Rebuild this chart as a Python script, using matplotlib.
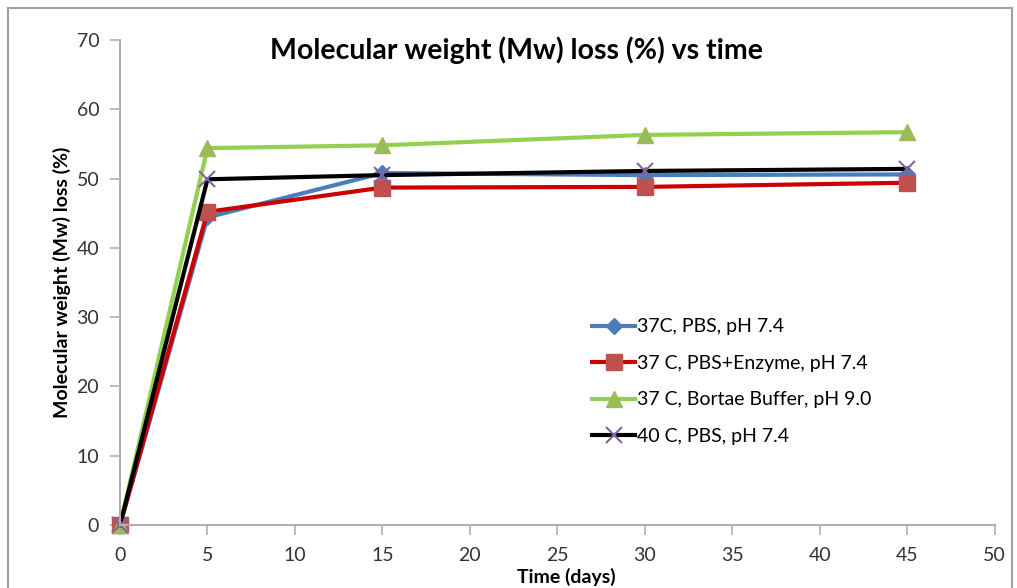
import matplotlib
matplotlib.use("Agg")
import matplotlib.pyplot as plt
from matplotlib.lines import Line2D

plt.rcParams['font.family'] = ['Liberation Sans Narrow', 'Lato', 'DejaVu Sans']

# data
days = [0, 5, 15, 30, 45]
pbs = [0, 44.4, 50.8, 50.5, 50.6]
pbs_enzyme = [0, 45.2, 48.7, 48.8, 49.4]
borate = [0, 54.4, 54.8, 56.3, 56.7]
pbs_40 = [0, 49.9, 50.5, 51.1, 51.4]
labels = ['37C, PBS, pH 7.4', '37 C, PBS+Enzyme, pH 7.4',
          '37 C, Bortae Buffer, pH 9.0', '40 C, PBS, pH 7.4']

fig = plt.figure(figsize=(10.17, 5.88), dpi=100)
ax = fig.add_axes([0.118, 0.107, 0.860, 0.825])

ax.plot(days, pbs, color='#4a7ebb', lw=3, marker='D', ms=8,
        mfc='#4a7ebb', mec='#4a7ebb', label=labels[0], clip_on=False)
ax.plot(days, pbs_enzyme, color='#cc0000', lw=3, marker='s', ms=12,
        mfc='#c0504d', mec='#c0504d', label=labels[1], clip_on=False)
ax.plot(days, borate, color='#92d050', lw=3, marker='^', ms=12,
        mfc='#9bbb59', mec='#9bbb59', label=labels[2], clip_on=False)
ax.plot(days, pbs_40, color='black', lw=3, marker='x', ms=12, mew=1.5,
        mec='#8064a2', label=labels[3], clip_on=False)

ax.set_xlim(0, 50)
ax.set_ylim(0, 70)
ax.set_xticks(range(0, 51, 5))
ax.set_yticks(range(0, 71, 10))
for s in ['top', 'right']:
    ax.spines[s].set_visible(False)
for s in ['left', 'bottom']:
    ax.spines[s].set_color('#b0b0b0')
    ax.spines[s].set_linewidth(1.5)
ax.tick_params(colors='#b0b0b0', labelcolor='#333333', labelsize=14,
               length=7, width=1.2)
ax.tick_params(axis='x', pad=9)
ax.tick_params(axis='y', pad=8)

fig.text(0.508, 0.915, 'Molecular weight (Mw) loss (%) vs time', fontsize=20.5,
         fontweight='bold', ha='center', va='center')
ax.set_ylabel('Molecular weight (Mw) loss (%)', fontsize=14, fontweight='bold',
              labelpad=4)
fig.text(0.557, 0.018, 'Time (days)', fontsize=14, fontweight='bold',
         ha='center', va='center')

ax.legend(loc='upper left', bbox_to_anchor=(0.52, 0.462), frameon=False,
          fontsize=14, labelspacing=1.0, handlelength=2.2, handletextpad=0.1)

# outer chart frame
fig.add_artist(Line2D([0.008, 0.008], [0.0, 0.986], color='#a0a0a0', lw=1.5))
fig.add_artist(Line2D([0.008, 0.995], [0.986, 0.986], color='#a0a0a0', lw=1.5))
fig.add_artist(Line2D([0.995, 0.995], [0.0, 0.986], color='#a0a0a0', lw=1.5))

fig.savefig('out.png', dpi=100)
